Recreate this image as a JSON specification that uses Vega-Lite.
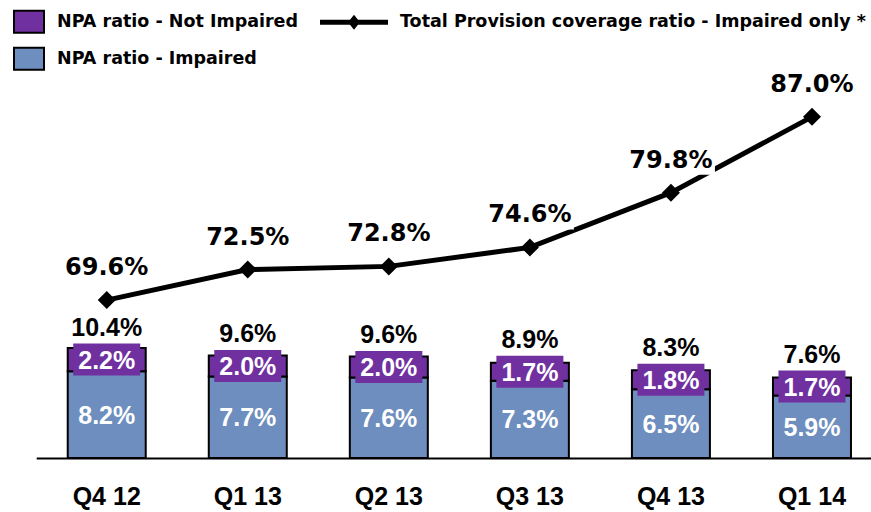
{
  "$schema": "https://vega.github.io/schema/vega-lite/v6.json",
  "width": 871,
  "height": 458,
  "autosize": {"type": "none"},
  "padding": {"left": 0, "top": 0, "right": 0, "bottom": 54},
  "background": "white",
  "config": {
    "view": {"stroke": null},
    "axisX": {
      "title": null, "domainColor": "black", "domainWidth": 2, "ticks": false, "tickSize": 0,
      "grid": false, "labelAngle": 0, "labelFont": "Liberation Sans", "labelFontWeight": "bold",
      "labelFontSize": 25, "labelColor": "black", "labelBaseline": "alphabetic", "labelPadding": 46
    }
  },
  "datasets": {
    "npa": [
      {"q": "Q4 12", "series": "NPA ratio - Impaired", "value": 0.082},
      {"q": "Q4 12", "series": "NPA ratio - Not Impaired", "value": 0.022},
      {"q": "Q1 13", "series": "NPA ratio - Impaired", "value": 0.077},
      {"q": "Q1 13", "series": "NPA ratio - Not Impaired", "value": 0.020},
      {"q": "Q2 13", "series": "NPA ratio - Impaired", "value": 0.076},
      {"q": "Q2 13", "series": "NPA ratio - Not Impaired", "value": 0.020},
      {"q": "Q3 13", "series": "NPA ratio - Impaired", "value": 0.073},
      {"q": "Q3 13", "series": "NPA ratio - Not Impaired", "value": 0.017},
      {"q": "Q4 13", "series": "NPA ratio - Impaired", "value": 0.065},
      {"q": "Q4 13", "series": "NPA ratio - Not Impaired", "value": 0.018},
      {"q": "Q1 14", "series": "NPA ratio - Impaired", "value": 0.059},
      {"q": "Q1 14", "series": "NPA ratio - Not Impaired", "value": 0.017}
    ],
    "cov": [
      {"q": "Q4 12", "total": 0.104, "coverage": 0.696},
      {"q": "Q1 13", "total": 0.096, "coverage": 0.725},
      {"q": "Q2 13", "total": 0.096, "coverage": 0.728},
      {"q": "Q3 13", "total": 0.089, "coverage": 0.746},
      {"q": "Q4 13", "total": 0.083, "coverage": 0.798},
      {"q": "Q1 14", "total": 0.076, "coverage": 0.870}
    ]
  },
  "resolve": {"scale": {"y": "independent", "color": "independent"}},
  "layer": [
    {
      "data": {"name": "npa"},
      "mark": {"type": "bar", "stroke": "black", "strokeWidth": 2},
      "encoding": {
        "x": {
          "field": "q", "type": "nominal",
          "sort": ["Q4 12", "Q1 13", "Q2 13", "Q3 13", "Q4 13", "Q1 14"],
          "scale": {"type": "band", "range": [36.2, 882.5], "paddingInner": 0.447, "paddingOuter": 0.2235}
        },
        "y": {
          "field": "value", "type": "quantitative", "stack": "zero",
          "scale": {"domain": [0, 0.4329], "nice": false, "zero": false},
          "axis": null
        },
        "color": {
          "field": "series", "type": "nominal",
          "scale": {"domain": ["NPA ratio - Not Impaired", "NPA ratio - Impaired"], "range": ["#7030A0", "#6D8EBE"]},
          "legend": {
            "orient": "none", "legendX": 13, "legendY": 5.8, "title": null,
            "symbolType": "M-1,-0.73L1,-0.73L1,0.73L-1,0.73Z", "symbolSize": 900,
            "symbolStrokeColor": "black", "symbolStrokeWidth": 2,
            "labelFont": "DejaVu Sans", "labelFontWeight": "bold", "labelFontSize": 17.5,
            "labelColor": "black", "labelOffset": 12, "labelLimit": 600, "rowPadding": 6, "padding": 0
          }
        },
        "order": {"field": "series", "sort": "ascending"}
      }
    },
    {
      "data": {"name": "npa"},
      "transform": [
        {"stack": "value", "groupby": ["q"], "sort": [{"field": "series", "order": "ascending"}], "as": ["lo", "hi"]},
        {"fold": ["lo", "hi"], "as": ["k", "v"]},
        {"aggregate": [{"op": "mean", "field": "v", "as": "mid"}], "groupby": ["q", "series", "value"]},
        {"lookup": "q", "from": {"data": {"name": "cov"}, "key": "q", "fields": ["total"]}}
      ],
      "encoding": {
        "x": {
          "field": "q", "type": "nominal",
          "sort": ["Q4 12", "Q1 13", "Q2 13", "Q3 13", "Q4 13", "Q1 14"],
          "scale": {"type": "band", "range": [36.2, 882.5], "paddingInner": 0.447, "paddingOuter": 0.2235}
        },
        "y": {
          "field": "mid", "type": "quantitative",
          "scale": {"domain": [0, 0.4329], "nice": false, "zero": false},
          "axis": null
        }
      },
      "layer": [
        {
          "transform": [{"filter": "datum.series === 'NPA ratio - Not Impaired'"}],
          "mark": {"type": "tick", "orient": "horizontal", "thickness": 32, "size": 67, "color": "#7030A0", "opacity": 1}
        },
        {
          "mark": {"type": "text", "font": "Liberation Sans", "fontWeight": "bold", "fontSize": 25, "color": "white", "baseline": "alphabetic", "dy": 9},
          "encoding": {"text": {"field": "value", "type": "quantitative", "format": ".1%"}}
        },
        {
          "transform": [{"filter": "datum.series === 'NPA ratio - Not Impaired'"}],
          "mark": {"type": "text", "font": "Liberation Sans", "fontWeight": "bold", "fontSize": 25, "color": "black", "baseline": "alphabetic", "dy": -24},
          "encoding": {"text": {"field": "total", "type": "quantitative", "format": ".1%"}}
        }
      ]
    },
    {
      "data": {"name": "cov"},
      "encoding": {
        "x": {
          "field": "q", "type": "nominal",
          "sort": ["Q4 12", "Q1 13", "Q2 13", "Q3 13", "Q4 13", "Q1 14"],
          "scale": {"type": "band", "range": [36.2, 882.5], "paddingInner": 0.447, "paddingOuter": 0.2235}
        },
        "y": {
          "field": "coverage", "type": "quantitative",
          "scale": {"domain": [0.546, 0.981], "nice": false, "zero": false},
          "axis": null
        }
      },
      "layer": [
        {"mark": {"type": "line", "color": "black", "strokeWidth": 5}},
        {
          "mark": {"type": "point", "shape": "diamond", "filled": true, "size": 324, "opacity": 1, "color": "black"},
          "encoding": {
            "fill": {
              "datum": "Total Provision coverage ratio - Impaired only *",
              "scale": {"range": ["black"]},
              "legend": {
                "orient": "none", "legendX": 320, "legendY": -11.7, "title": null,
                "symbolType": "M-1,-0.074L-0.117,-0.074L0,-0.22L0.117,-0.074L1,-0.074L1,0.074L0.117,0.074L0,0.22L-0.117,0.074L-1,0.074Z",
                "symbolSize": 4624, "symbolStrokeWidth": 0, "symbolFillColor": "black",
                "labelFont": "DejaVu Sans", "labelFontWeight": "bold", "labelFontSize": 17.5,
                "labelColor": "black", "labelOffset": 12, "labelLimit": 700, "padding": 0
              }
            }
          }
        },
        {"mark": {"type": "tick", "orient": "horizontal", "thickness": 32, "size": 88, "color": "white", "opacity": 1, "yOffset": -34}},
        {
          "mark": {"type": "text", "font": "DejaVu Sans", "fontWeight": "bold", "fontSize": 24, "color": "black", "baseline": "alphabetic", "dy": -25},
          "encoding": {"text": {"field": "coverage", "type": "quantitative", "format": ".1%"}}
        }
      ]
    }
  ]
}
